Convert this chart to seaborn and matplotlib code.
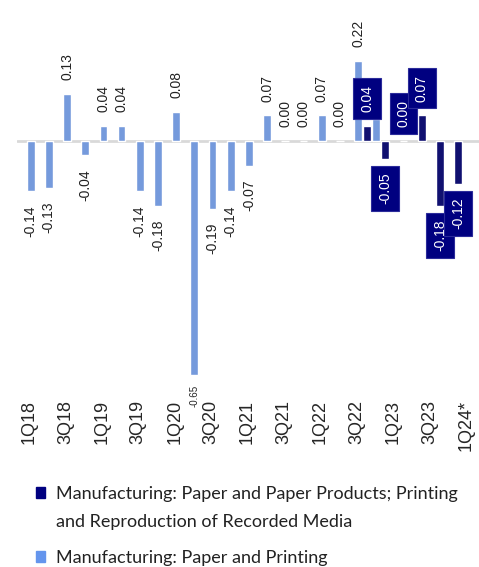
import pandas as pd
import seaborn as sns
import matplotlib.pyplot as plt
from matplotlib.patches import Patch
from matplotlib.transforms import ScaledTranslation

quarters = ["1Q18", "2Q18", "3Q18", "4Q18", "1Q19", "2Q19", "3Q19", "4Q19",
            "1Q20", "2Q20", "3Q20", "4Q20", "1Q21", "2Q21", "3Q21", "4Q21",
            "1Q22", "2Q22", "3Q22", "4Q22", "1Q23", "2Q23", "3Q23", "4Q23", "1Q24*"]

# Manufacturing: Paper and Printing (1Q18 - 4Q22)
paper_printing = [-0.14, -0.13, 0.13, -0.04, 0.04, 0.04, -0.14, -0.18,
                  0.08, -0.65, -0.19, -0.14, -0.07, 0.07, 0.00, 0.00,
                  0.07, 0.00, 0.22, 0.06]

# Manufacturing: Paper and Paper Products; Printing ... (3Q22 - 4Q23)
paper_products = [0.04, -0.05, 0.00, 0.07, -0.18, -0.12]
paper_products_start = "3Q22"

series_new = "Manufacturing: Paper and Paper Products; Printing\nand Reproduction of Recorded Media"
series_old = "Manufacturing: Paper and Printing"

light = "#6495ED"
navy = "#000080"

start = quarters.index(paper_products_start)
dados = pd.concat([
    pd.DataFrame({"quarter": quarters[:len(paper_printing)], "value": paper_printing, "series": series_old}),
    pd.DataFrame({"quarter": quarters[start:start + len(paper_products)], "value": paper_products, "series": series_new}),
])

sns.set_style("white")
plt.rcParams["font.family"] = ["Liberation Sans", "DejaVu Sans"]

fig = plt.figure(figsize=(4.79, 5.67), dpi=100)
ax = fig.add_axes([17 / 479, (567 - 395) / 567, 1 - 17 / 479, 395 / 567])

sns.barplot(data=dados, x="quarter", y="value", hue="series", order=quarters,
            hue_order=[series_old, series_new], palette=[light, navy],
            width=1.0, gap=0.15, errorbar=None, legend=False, ax=ax, zorder=2)

ax.axhline(0, color="#d9d9d9", lw=2, zorder=1)

ax.set_xlim(-1.0, 24.4)
ax.set_ylim(-0.705, 0.39)
ax.set_xlabel("")
ax.set_ylabel("")
ax.set_yticks([])
sns.despine(ax=ax, left=True, bottom=True)

ax.set_xticks(range(0, len(quarters), 2))
ax.set_xticklabels(quarters[::2], rotation=90, fontsize=13)
ax.tick_params(axis="x", length=0, pad=3.5)
for lab in ax.get_xticklabels():
    lab.set_transform(lab.get_transform() + ScaledTranslation(-6 / 100, 0, fig.dpi_scale_trans))

# data labels
for bar in ax.containers[0]:
    v = bar.get_height()
    x = bar.get_x() + bar.get_width() / 2
    small = v < -0.5
    off = (7 if small else 10) * (1 if v >= 0 else -1)
    ax.annotate(f"{v:.2f}", (x, v), xytext=(0, off), textcoords="offset points",
                rotation=90, ha="center", va="bottom" if v >= 0 else "top",
                fontsize=7 if small else 10, color="#222222", zorder=3)

for bar in ax.containers[1]:
    v = bar.get_height()
    x = bar.get_x() + bar.get_width() / 2
    off = 10 * (1 if v >= 0 else -1)
    ax.annotate(f"{v:.2f}", (x, v), xytext=(0, off), textcoords="offset points",
                rotation=90, ha="center", va="bottom" if v >= 0 else "top",
                fontsize=10, color="white", zorder=4,
                bbox=dict(boxstyle="square,pad=0.5", fc=navy, ec="#2b2b9a", lw=0.8))

# legend (two blocks so the marker sits on the first line of the wrapped label)
leg_font = {"family": "Lato", "size": 13}
line1, line2 = series_new.split("\n")
leg1 = fig.legend(handles=[Patch(color=navy), Patch(alpha=0)], labels=[line1, line2],
                  loc="upper left", bbox_to_anchor=(36 / 479, 1 - 486 / 567),
                  frameon=False, prop=leg_font, handlelength=0.5, handleheight=0.5,
                  handletextpad=0.6, labelspacing=0.65, borderpad=0, borderaxespad=0)
leg2 = fig.legend(handles=[Patch(color=light)], labels=[series_old],
                  loc="upper left", bbox_to_anchor=(36 / 479, 1 - 550 / 567),
                  frameon=False, prop=leg_font, handlelength=0.5, handleheight=0.5,
                  handletextpad=0.6, borderpad=0, borderaxespad=0)
for leg in (leg1, leg2):
    for t in leg.get_texts():
        t.set_color("#222222")

fig.savefig("out.png", dpi=100)
